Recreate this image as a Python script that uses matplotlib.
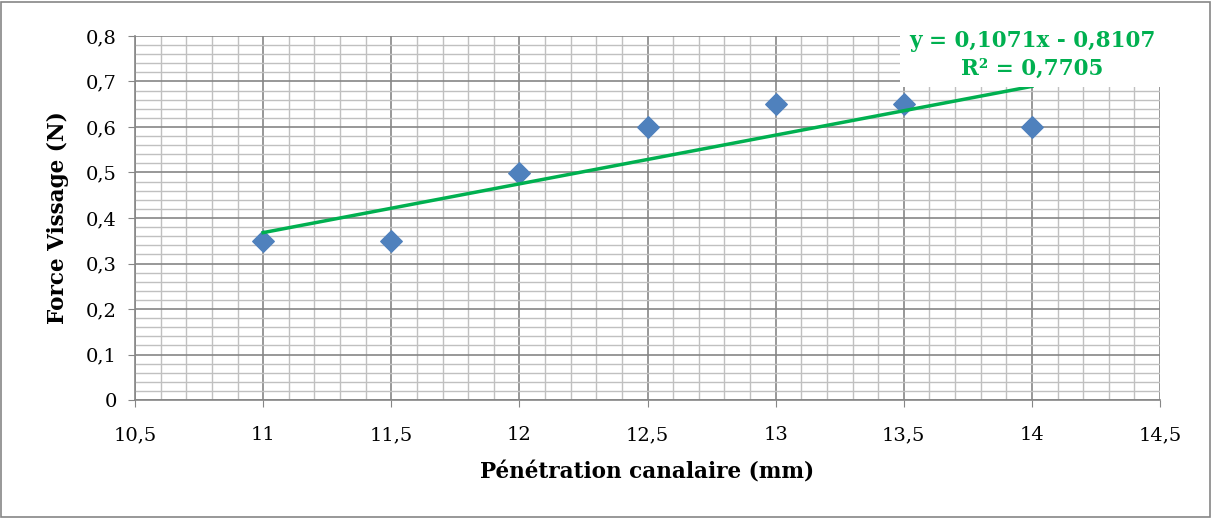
import numpy as np
import matplotlib.pyplot as plt
from matplotlib.ticker import MultipleLocator, FuncFormatter

# data
penetration = [11, 11.5, 12, 12.5, 13, 13.5, 14]
force = [0.35, 0.35, 0.5, 0.6, 0.65, 0.65, 0.6]

plt.rcParams['font.family'] = ['DejaVu Serif']

fig = plt.figure(figsize=(12.12, 5.18), dpi=100)
ax = fig.add_axes([135/1212, 1 - 400/518, (1160-135)/1212, (400-36)/518])

# grid: major and minor
ax.xaxis.set_major_locator(MultipleLocator(0.5))
ax.xaxis.set_minor_locator(MultipleLocator(0.1))
ax.yaxis.set_major_locator(MultipleLocator(0.1))
ax.yaxis.set_minor_locator(MultipleLocator(0.02))
ax.grid(which='major', color='#868686', linewidth=1.2, zorder=0)
ax.grid(which='minor', color='#c0c0c0', linewidth=1.0, zorder=0)
ax.set_axisbelow(True)

ax.scatter(penetration, force, marker='D', s=120, color='#4F81BD', zorder=3)

# linear trendline
slope, intercept = np.polyfit(penetration, force, 1)
xs = np.array([min(penetration), max(penetration)])
ax.plot(xs, slope * xs + intercept, color='#00B050', linewidth=2.5, zorder=4)

ax.set_xlim(10.5, 14.5)
ax.set_ylim(0, 0.8)

fmt = FuncFormatter(lambda v, p: ('%g' % round(v, 2)).replace('.', ','))
ax.xaxis.set_major_formatter(fmt)
ax.yaxis.set_major_formatter(fmt)
ax.tick_params(which='major', labelsize=14, length=5, color='#868686')
ax.tick_params(axis='x', which='major', pad=14)
ax.tick_params(axis='y', which='major', pad=8)
ax.tick_params(which='minor', length=0)

for side in ['top', 'right']:
    ax.spines[side].set_visible(False)
for side in ['left', 'bottom']:
    ax.spines[side].set_color('#868686')
    ax.spines[side].set_linewidth(1.2)

ax.set_xlabel('Pénétration canalaire (mm)', fontsize=15.5, fontweight='bold', labelpad=12)
ax.set_ylabel('Force Vissage (N)', fontsize=15.5, fontweight='bold', labelpad=12)

# white box behind the equation
fig.patches.append(plt.Rectangle((900/1212, 1 - 87/518), 265/1212, 67/518,
                                 transform=fig.transFigure, facecolor='white',
                                 edgecolor='none', zorder=5))
eq = 'y = 0,1071x - 0,8107\nR² = 0,7705'
fig.text(1032/1212, 1 - 55/518, eq, ha='center', va='center', fontsize=15.5,
         fontweight='bold', color='#00B050', linespacing=1.35, zorder=6)

# outer border
fig.patches.append(plt.Rectangle((0.001, 0.002), 0.997, 0.995, transform=fig.transFigure,
                                 fill=False, edgecolor='#868686', linewidth=1.2))

fig.savefig('out.png', dpi=100)
